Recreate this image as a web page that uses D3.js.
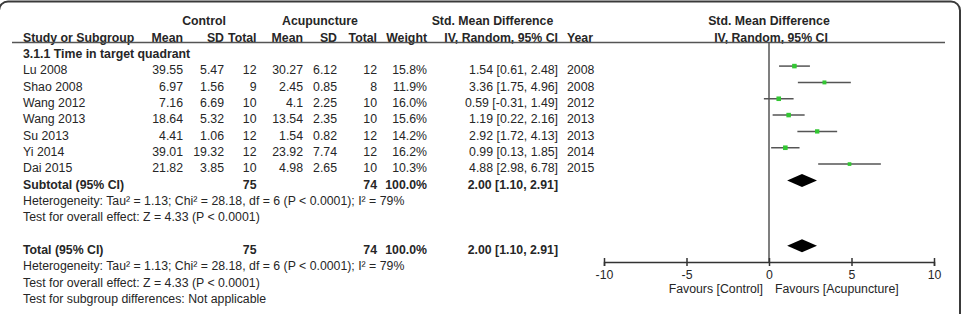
<!DOCTYPE html>
<html>
<head>
<meta charset="utf-8">
<script src="https://cdn.jsdelivr.net/npm/d3@7"></script>
<style>
	html, body { margin: 0; padding: 0; background: white; }
	#outer { width: 963px; height: 314px; }
</style>
</head>
<body>
<div id="outer"></div>
<script>

////////// Data //////////
const studies = ['Lu 2008', 'Shao 2008', 'Wang 2012', 'Wang 2013', 'Su 2013', 'Yi 2014', 'Dai 2015'];
const ctrlMean = [39.55, 6.97, 7.16, 18.64, 4.41, 39.01, 21.82];
const ctrlSD = [5.47, 1.56, 6.69, 5.32, 1.06, 19.32, 3.85];
const ctrlN = [12, 9, 10, 10, 12, 12, 10];
const acuMean = [30.27, 2.45, 4.1, 13.54, 1.54, 23.92, 4.98];
const acuSD = [6.12, 0.85, 2.25, 2.35, 0.82, 7.74, 2.65];
const acuN = [12, 8, 10, 10, 12, 12, 10];
const weights = [15.8, 11.9, 16.0, 15.6, 14.2, 16.2, 10.3];
const smd = [1.54, 3.36, 0.59, 1.19, 2.92, 0.99, 4.88];
const ciLow = [0.61, 1.75, -0.31, 0.22, 1.72, 0.13, 2.98];
const ciHigh = [2.48, 4.96, 1.49, 2.16, 4.13, 1.85, 6.78];
const years = [2008, 2008, 2012, 2013, 2013, 2014, 2015];

const pooled = {est: 2.00, lo: 1.10, hi: 2.91, ctrlTotal: 75, acuTotal: 74, weight: 100.0};
const axisTicks = [-10, -5, 0, 5, 10];
const hetText = 'Heterogeneity: Tau\u00b2 = 1.13; Chi\u00b2 = 28.18, df = 6 (P < 0.0001); I\u00b2 = 79%';
const effectText = 'Test for overall effect: Z = 4.33 (P < 0.0001)';
const subgroupText = 'Test for subgroup differences: Not applicable';


////////////////////////////////////////////////////////////////
	// Render
////////////////////////////////////////////////////////////////
function render() {
	const width = 963, height = 314;
	const font = '12.3px Arial, "Liberation Sans", sans-serif';
	const textColor = '#262626';
	const lineColor = '#555';
	const markerColor = '#33c733';

	const rowY = i => 25.3 + 16.33 * i;	// text baseline for row i
	const markOffset = 8.2;						// marks sit a bit above the baseline

	// column anchors
	const col = {
		study: 23, cMean: 183, cSD: 224, cTot: 256.5,
		aMean: 303, aSD: 337, aTot: 377, weight: 427,
		smd: 558, year: 567
	};

	const svg = d3.select('#outer').append('svg')
		.attr('width', width)
		.attr('height', height)
		.style('font', font);

	// frame
	svg.append('rect')
		.attr('x', -1).attr('y', 1.5)
		.attr('width', 961).attr('height', 340)
		.attr('rx', 9).attr('ry', 9)
		.attr('fill', 'none')
		.attr('stroke', '#3a3a3a')
		.attr('stroke-width', 2);

	const txt = (x, i, s, anchor, bold) => svg.append('text')
		.attr('x', x).attr('y', rowY(i))
		.attr('text-anchor', anchor || 'start')
		.attr('font-weight', bold ? 'bold' : 'normal')
		.attr('fill', textColor)
		.text(s);

	// ********************** HEADER ********************** //
	txt(204, 0, 'Control', 'middle', true);
	txt(320, 0, 'Acupuncture', 'middle', true);
	txt(492.5, 0, 'Std. Mean Difference', 'middle', true);
	txt(769, 0, 'Std. Mean Difference', 'middle', true);

	txt(col.study, 1, 'Study or Subgroup', 'start', true);
	txt(col.cMean, 1, 'Mean', 'end', true);
	txt(col.cSD, 1, 'SD', 'end', true);
	txt(col.cTot, 1, 'Total', 'end', true);
	txt(col.aMean, 1, 'Mean', 'end', true);
	txt(col.aSD, 1, 'SD', 'end', true);
	txt(col.aTot, 1, 'Total', 'end', true);
	txt(col.weight, 1, 'Weight', 'end', true);
	txt(col.smd, 1, 'IV, Random, 95% CI', 'end', true);
	txt(col.year, 1, 'Year', 'start', true);
	txt(771, 1, 'IV, Random, 95% CI', 'middle', true);

	svg.append('line')
		.attr('x1', 12).attr('x2', 945)
		.attr('y1', 42.5).attr('y2', 42.5)
		.attr('stroke', lineColor).attr('stroke-width', 1.5);

	txt(col.study, 2, '3.1.1 Time in target quadrant', 'start', true);

	// ********************** STUDY ROWS ********************** //
	studies.forEach((s, k) => {
		const i = k + 3;
		txt(col.study, i, s);
		txt(col.cMean, i, String(ctrlMean[k]), 'end');
		txt(col.cSD, i, String(ctrlSD[k]), 'end');
		txt(col.cTot, i, String(ctrlN[k]), 'end');
		txt(col.aMean, i, String(acuMean[k]), 'end');
		txt(col.aSD, i, String(acuSD[k]), 'end');
		txt(col.aTot, i, String(acuN[k]), 'end');
		txt(col.weight, i, weights[k].toFixed(1) + '%', 'end');
		txt(col.smd, i, `${smd[k].toFixed(2)} [${ciLow[k].toFixed(2)}, ${ciHigh[k].toFixed(2)}]`, 'end');
		txt(col.year, i, String(years[k]));
	});

	// ********************** TOTALS ********************** //
	const pooledText = `${pooled.est.toFixed(2)} [${pooled.lo.toFixed(2)}, ${pooled.hi.toFixed(2)}]`;
	[[10, 'Subtotal (95% CI)'], [14, 'Total (95% CI)']].forEach(([i, label]) => {
		txt(col.study, i, label, 'start', true);
		txt(col.cTot, i, String(pooled.ctrlTotal), 'end', true);
		txt(col.aTot, i, String(pooled.acuTotal), 'end', true);
		txt(col.weight, i, pooled.weight.toFixed(1) + '%', 'end', true);
		txt(col.smd, i, pooledText, 'end', true);
	});
	txt(col.study, 11, hetText);
	txt(col.study, 12, effectText);
	txt(col.study, 15, hetText);
	txt(col.study, 16, effectText);
	txt(col.study, 17, subgroupText);

	// ********************** FOREST PLOT ********************** //
	const x = d3.scaleLinear().domain([-10, 10]).range([604, 934]);
	const boxSize = d3.scaleSqrt().domain([0, 16.2]).range([0, 4.6]);
	const axisY = 262;

	svg.append('line')
		.attr('x1', x(0)).attr('x2', x(0))
		.attr('y1', 42.5).attr('y2', axisY)
		.attr('stroke', lineColor).attr('stroke-width', 1.5);

	const plot = svg.append('g').attr('class', 'plot');
	studies.forEach((s, k) => {
		const y = rowY(k + 3) - markOffset;
		plot.append('line')
			.attr('x1', x(ciLow[k])).attr('x2', x(ciHigh[k]))
			.attr('y1', y).attr('y2', y)
			.attr('stroke', lineColor).attr('stroke-width', 1.5);
		const b = boxSize(weights[k]);
		plot.append('rect')
			.attr('x', x(smd[k]) - b / 2).attr('y', y - b / 2)
			.attr('width', b).attr('height', b)
			.attr('fill', markerColor);
	});

	[10, 14].forEach(i => {
		const y = rowY(i) - markOffset;
		const h = 6.5;
		plot.append('path')
			.attr('d', `M${x(pooled.lo)},${y} L${x(pooled.est)},${y - h} L${x(pooled.hi)},${y} L${x(pooled.est)},${y + h} Z`)
			.attr('fill', '#000');
	});

	// axis
	const axis = svg.append('g')
		.attr('transform', `translate(0, ${axisY})`)
		.call(d3.axisBottom(x).tickValues(axisTicks).tickFormat(d => String(d)).tickSizeOuter(0).tickSize(4));
	axis.select('.domain').attr('stroke', '#333').attr('stroke-width', 1.5);
	axis.selectAll('.tick line').attr('y1', -4).attr('y2', 4).attr('stroke', '#333').attr('stroke-width', 1.5);
	axis.selectAll('.tick text')
		.attr('y', 8).attr('dy', '0.71em')
		.style('font', font).attr('fill', textColor);

	svg.append('text')
		.attr('x', 763).attr('y', 293)
		.attr('text-anchor', 'end').attr('fill', textColor)
		.text('Favours [Control]');
	svg.append('text')
		.attr('x', 775).attr('y', 293)
		.attr('fill', textColor)
		.text('Favours [Acupuncture]');
}

render();
</script>
</body>
</html>
